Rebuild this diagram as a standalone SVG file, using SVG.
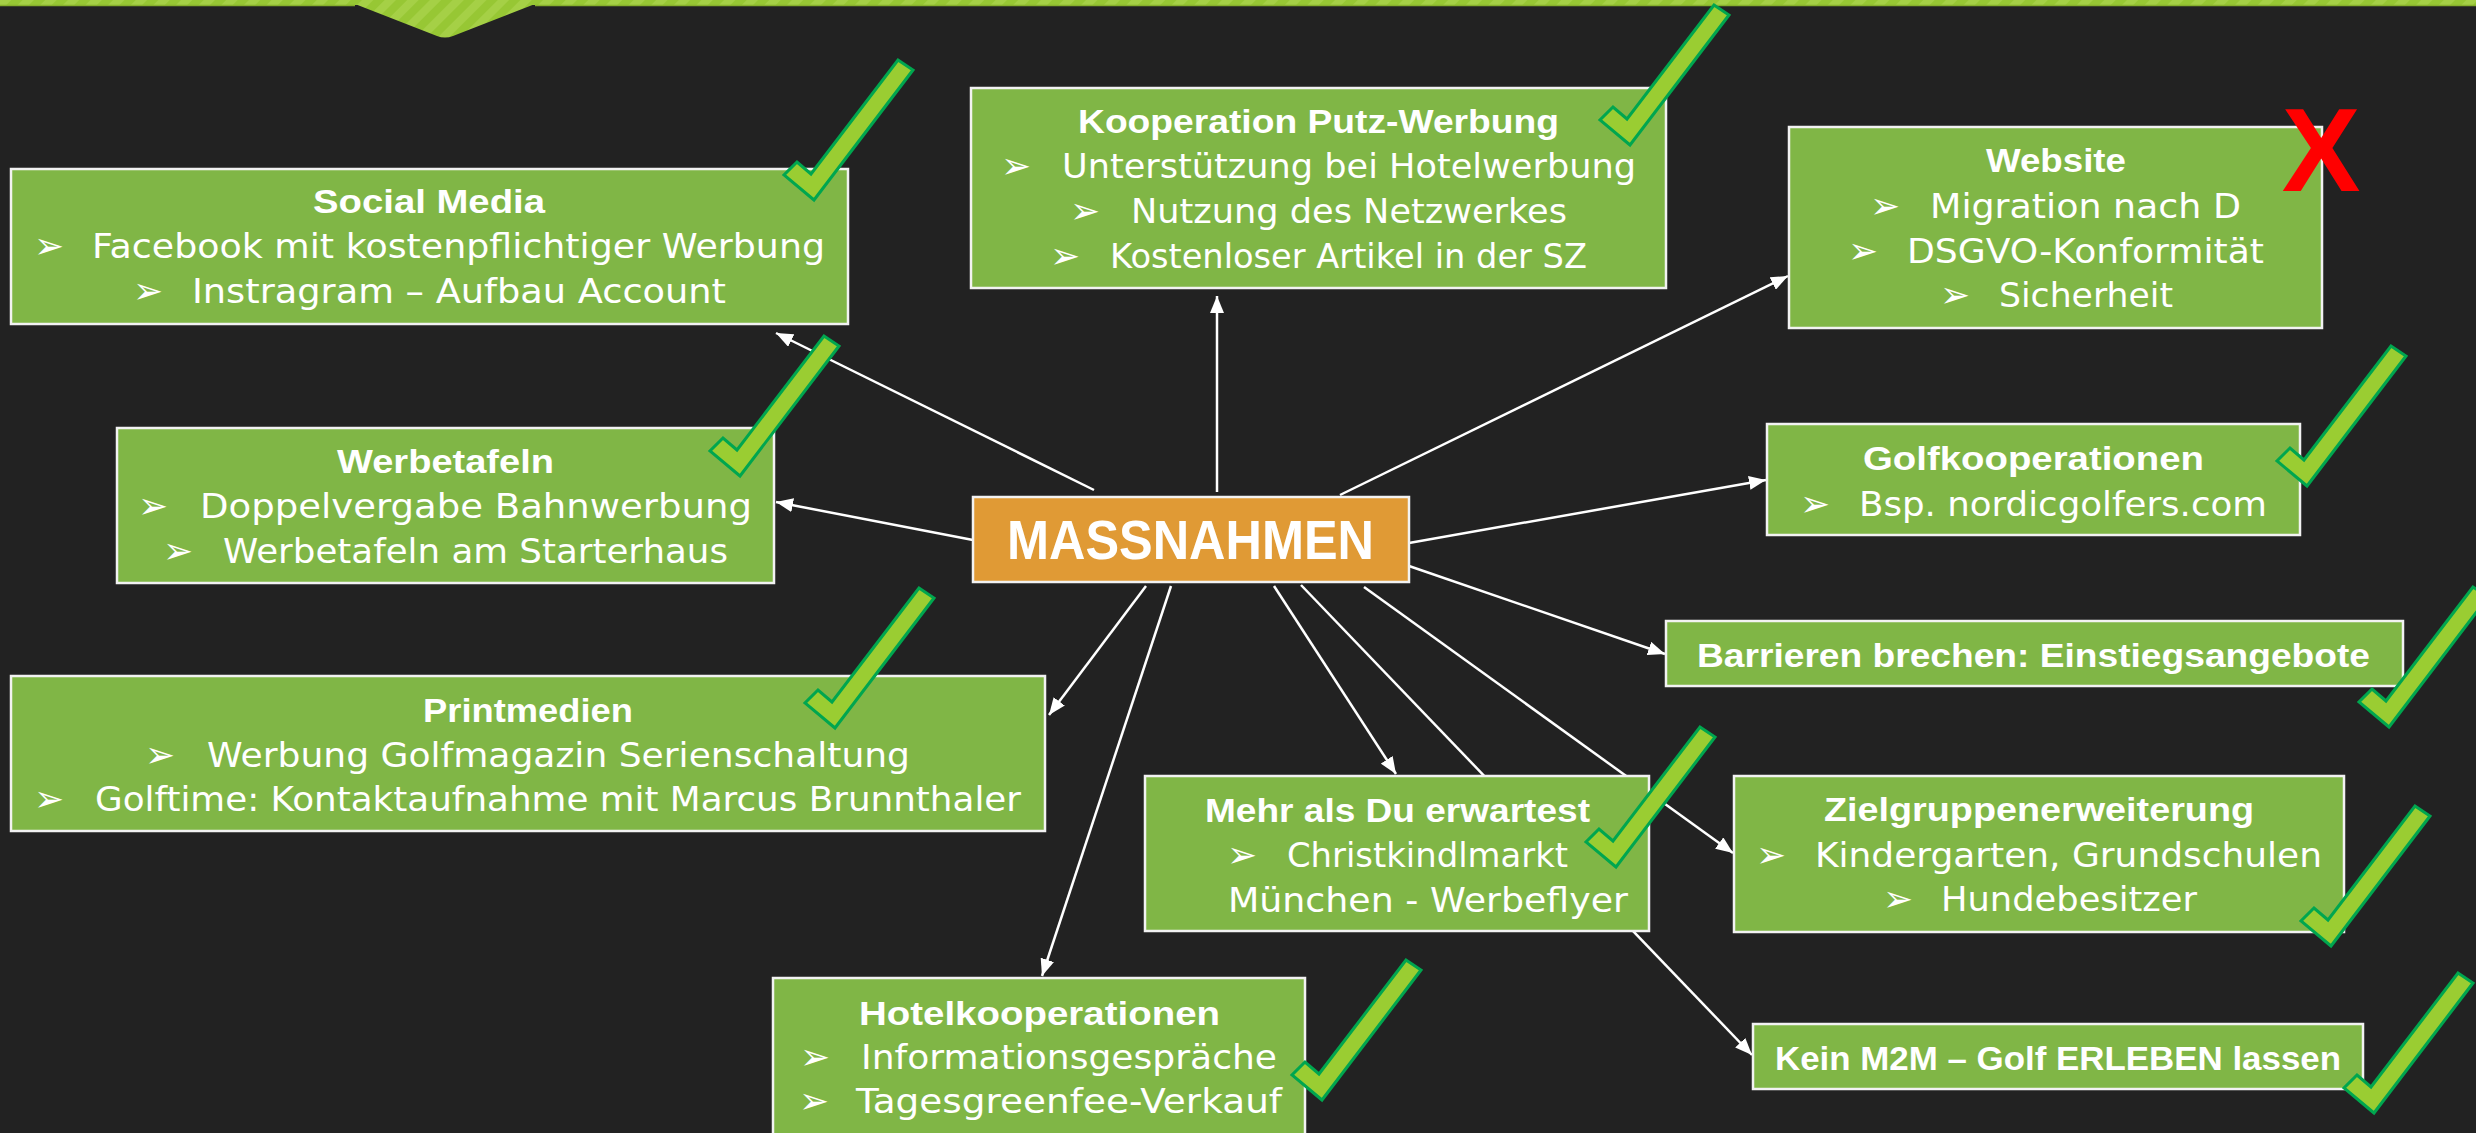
<svg xmlns="http://www.w3.org/2000/svg" width="2476" height="1133" viewBox="0 0 2476 1133">
<style>
.bg{fill:#222222}
.node{fill:#80B646;stroke:#F2F2F2;stroke-width:2.5}
.center{fill:#E09A35;stroke:#F2F2F2;stroke-width:2.5}
.t{font-family:"Liberation Sans",Arial,sans-serif;font-weight:bold;font-size:34px;fill:#FFFFFF}
.b{font-family:"DejaVu Sans",sans-serif;font-size:33px;fill:#FFFFFF}
.bl{font-family:"DejaVu Sans",sans-serif;font-size:36px;fill:#FFFFFF}
.con{stroke:#FFFFFF;stroke-width:2.5;fill:none;marker-end:url(#arr)}
.chk{fill:#9ACD32;stroke:#00A64F;stroke-width:3;stroke-linejoin:miter}
</style>
<defs>
<marker id="arr" markerUnits="userSpaceOnUse" markerWidth="18" markerHeight="14" refX="17" refY="7" orient="auto">
<path d="M0,0 L17,7 L0,14 Z" fill="#FFFFFF"/>
</marker>
<pattern id="stripes" patternUnits="userSpaceOnUse" width="16" height="16" patternTransform="rotate(45)">
<rect width="16" height="16" fill="#97C734"/>
<rect width="8" height="16" fill="#A5D046"/>
</pattern>
<path id="check" d="M0,0 L-30,-25 L-17,-38 L-3,-26 L84,-140 L99,-130 Z"/>
</defs>
<rect class="bg" x="0" y="0" width="2476" height="1133"/>
<g id="header">
<rect x="0" y="0" width="2476" height="5" fill="url(#stripes)"/>
<path d="M355,4 L437,36 Q445,39 453,36 L535,4 Z" fill="url(#stripes)"/>
<line x1="0" y1="5.5" x2="355" y2="5.5" stroke="#86B02C" stroke-width="1.5"/>
<line x1="535" y1="5.5" x2="2476" y2="5.5" stroke="#86B02C" stroke-width="1.5"/>
</g>
<g id="connectors">
<line class="con" x1="1094" y1="490" x2="776" y2="333"/>
<line class="con" x1="1217" y1="492" x2="1217" y2="296"/>
<line class="con" x1="1340" y1="495" x2="1788" y2="276"/>
<line class="con" x1="973" y1="540" x2="776" y2="502"/>
<line class="con" x1="1409" y1="543" x2="1766" y2="480"/>
<line class="con" x1="1409" y1="566" x2="1665" y2="654"/>
<line class="con" x1="1146" y1="586" x2="1049" y2="715"/>
<line class="con" x1="1171" y1="586" x2="1042" y2="976"/>
<line class="con" x1="1274" y1="586" x2="1396" y2="774"/>
<line class="con" x1="1301" y1="585" x2="1752" y2="1055"/>
<line class="con" x1="1364" y1="587" x2="1733" y2="853"/>
</g>
<g id="node-social">
<rect class="node" x="11" y="169" width="837" height="155"/>
<text class="t" x="313" y="213" textLength="232" lengthAdjust="spacingAndGlyphs">Social Media</text>
<text class="bl" x="34" y="258">➢</text>
<text class="b" x="92" y="258" textLength="733" lengthAdjust="spacingAndGlyphs">Facebook mit kostenpflichtiger Werbung</text>
<text class="bl" x="133" y="303">➢</text>
<text class="b" x="192" y="303" textLength="534" lengthAdjust="spacingAndGlyphs">Instragram – Aufbau Account</text>
</g>
<g id="node-kooperation">
<rect class="node" x="971" y="88" width="695" height="200"/>
<text class="t" x="1078" y="133" textLength="481" lengthAdjust="spacingAndGlyphs">Kooperation Putz-Werbung</text>
<text class="bl" x="1001" y="178">➢</text>
<text class="b" x="1062" y="178" textLength="574" lengthAdjust="spacingAndGlyphs">Unterstützung bei Hotelwerbung</text>
<text class="bl" x="1070" y="223">➢</text>
<text class="b" x="1131" y="223" textLength="436" lengthAdjust="spacingAndGlyphs">Nutzung des Netzwerkes</text>
<text class="bl" x="1050" y="268">➢</text>
<text class="b" x="1110" y="268" textLength="477" lengthAdjust="spacingAndGlyphs">Kostenloser Artikel in der SZ</text>
</g>
<g id="node-website">
<rect class="node" x="1789" y="127" width="533" height="201"/>
<text class="t" x="1986" y="172" textLength="140" lengthAdjust="spacingAndGlyphs">Website</text>
<text class="bl" x="1870" y="218">➢</text>
<text class="b" x="1930" y="218" textLength="311" lengthAdjust="spacingAndGlyphs">Migration nach D</text>
<text class="bl" x="1848" y="263">➢</text>
<text class="b" x="1907" y="263" textLength="357" lengthAdjust="spacingAndGlyphs">DSGVO-Konformität</text>
<text class="bl" x="1940" y="307">➢</text>
<text class="b" x="1999" y="307" textLength="174" lengthAdjust="spacingAndGlyphs">Sicherheit</text>
</g>
<g id="node-werbetafeln">
<rect class="node" x="117" y="428" width="657" height="155"/>
<text class="t" x="337" y="473" textLength="217" lengthAdjust="spacingAndGlyphs">Werbetafeln</text>
<text class="bl" x="138" y="518">➢</text>
<text class="b" x="200" y="518" textLength="552" lengthAdjust="spacingAndGlyphs">Doppelvergabe Bahnwerbung</text>
<text class="bl" x="163" y="563">➢</text>
<text class="b" x="223" y="563" textLength="505" lengthAdjust="spacingAndGlyphs">Werbetafeln am Starterhaus</text>
</g>
<g id="node-printmedien">
<rect class="node" x="11" y="676" width="1034" height="155"/>
<text class="t" x="423" y="722" textLength="210" lengthAdjust="spacingAndGlyphs">Printmedien</text>
<text class="bl" x="145" y="767">➢</text>
<text class="b" x="207" y="767" textLength="703" lengthAdjust="spacingAndGlyphs">Werbung Golfmagazin Serienschaltung</text>
<text class="bl" x="34" y="811">➢</text>
<text class="b" x="95" y="811" textLength="926" lengthAdjust="spacingAndGlyphs">Golftime: Kontaktaufnahme mit Marcus Brunnthaler</text>
</g>
<g id="node-massnahmen">
<rect class="center" x="973" y="497" width="436" height="85"/>
<text class="t" x="1007" y="559" style="font-size:55px" textLength="367" lengthAdjust="spacingAndGlyphs">MASSNAHMEN</text>
</g>
<g id="node-golfkooperationen">
<rect class="node" x="1767" y="424" width="533" height="111"/>
<text class="t" x="1863" y="470" textLength="341" lengthAdjust="spacingAndGlyphs">Golfkooperationen</text>
<text class="bl" x="1800" y="516">➢</text>
<text class="b" x="1859" y="516" textLength="408" lengthAdjust="spacingAndGlyphs">Bsp. nordicgolfers.com</text>
</g>
<g id="node-barrieren">
<rect class="node" x="1666" y="621" width="737" height="65"/>
<text class="t" x="1697" y="667" textLength="673" lengthAdjust="spacingAndGlyphs">Barrieren brechen: Einstiegsangebote</text>
</g>
<g id="node-mehr">
<rect class="node" x="1145" y="776" width="504" height="155"/>
<text class="t" x="1205" y="822" textLength="385" lengthAdjust="spacingAndGlyphs">Mehr als Du erwartest</text>
<text class="bl" x="1227" y="867">➢</text>
<text class="b" x="1287" y="867" textLength="281" lengthAdjust="spacingAndGlyphs">Christkindlmarkt</text>
<text class="b" x="1228" y="912" textLength="400" lengthAdjust="spacingAndGlyphs">München - Werbeflyer</text>
</g>
<g id="node-zielgruppen">
<rect class="node" x="1734" y="776" width="610" height="156"/>
<text class="t" x="1824" y="821" textLength="430" lengthAdjust="spacingAndGlyphs">Zielgruppenerweiterung</text>
<text class="bl" x="1756" y="867">➢</text>
<text class="b" x="1815" y="867" textLength="507" lengthAdjust="spacingAndGlyphs">Kindergarten, Grundschulen</text>
<text class="bl" x="1883" y="911">➢</text>
<text class="b" x="1941" y="911" textLength="256" lengthAdjust="spacingAndGlyphs">Hundebesitzer</text>
</g>
<g id="node-hotel">
<rect class="node" x="773" y="978" width="532" height="170"/>
<text class="t" x="859" y="1025" textLength="361" lengthAdjust="spacingAndGlyphs">Hotelkooperationen</text>
<text class="bl" x="800" y="1069">➢</text>
<text class="b" x="861" y="1069" textLength="416" lengthAdjust="spacingAndGlyphs">Informationsgespräche</text>
<text class="bl" x="799" y="1113">➢</text>
<text class="b" x="856" y="1113" textLength="426" lengthAdjust="spacingAndGlyphs">Tagesgreenfee-Verkauf</text>
</g>
<g id="node-kein">
<rect class="node" x="1753" y="1024" width="610" height="65"/>
<text class="t" x="1775" y="1070" textLength="566" lengthAdjust="spacingAndGlyphs">Kein M2M – Golf ERLEBEN lassen</text>
</g>
<g id="marks">
<use href="#check" class="chk" x="814" y="200"/>
<use href="#check" class="chk" x="1630" y="145"/>
<use href="#check" class="chk" x="740" y="476"/>
<use href="#check" class="chk" x="835" y="728"/>
<use href="#check" class="chk" x="2307" y="486"/>
<use href="#check" class="chk" x="2389" y="727"/>
<use href="#check" class="chk" x="1616" y="867"/>
<use href="#check" class="chk" x="2331" y="946"/>
<use href="#check" class="chk" x="1322" y="1100"/>
<use href="#check" class="chk" x="2374" y="1113"/>
<text x="2321" y="191" text-anchor="middle" style="font-family:'Liberation Sans',Arial,sans-serif;font-weight:bold;font-size:118px;fill:#FF0000">X</text>
</g>
</svg>
